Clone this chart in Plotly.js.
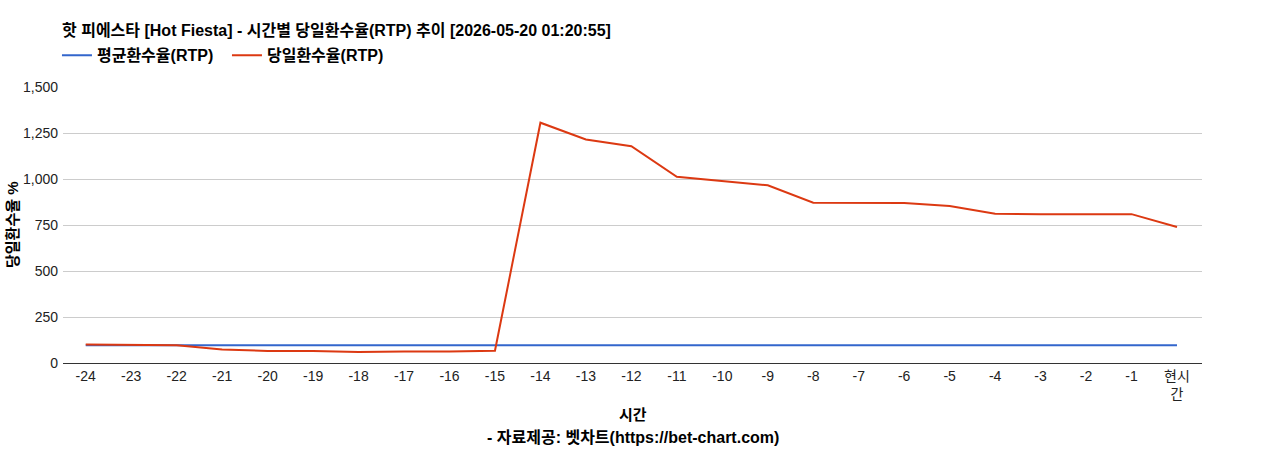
<!DOCTYPE html>
<html>
<head>
<meta charset="utf-8">
<script src="https://cdn.plot.ly/plotly-3.0.1.min.js"></script>
<style>
  html, body { margin: 0; padding: 0; background: #fff; }
  #chart { width: 1268px; height: 450px; }
</style>
</head>
<body>
<div id="chart"></div>
<script>
// hours before now, last one is "now"
var hours = ['-24', '-23', '-22', '-21', '-20', '-19', '-18', '-17', '-16', '-15', '-14', '-13',
             '-12', '-11', '-10', '-9', '-8', '-7', '-6', '-5', '-4', '-3', '-2', '-1', '현시<br>간'];

var avgRtp = [96, 96, 96, 96, 96, 96, 96, 96, 96, 96, 96, 96,
              96, 96, 96, 96, 96, 96, 96, 96, 96, 96, 96, 96, 96];

var dayRtp = [100, 100, 96, 74, 65, 65, 60, 62, 62, 67, 1306, 1215,
              1178, 1012, 989, 966, 871, 869, 869, 853, 811, 809, 809, 809, 739];

var yTicks = [0, 250, 500, 750, 1000, 1250, 1500];
var yTickText = ['0', '250', '500', '750', '1,000', '1,250', '1,500'];

var FONT = '"Liberation Sans", Arial, "Noto Sans CJK KR", sans-serif';

var data = [
  {
    x: hours, y: avgRtp, name: '평균환수율(RTP)',
    type: 'scatter', mode: 'lines',
    line: { color: '#3366cc', width: 2 }
  },
  {
    x: hours, y: dayRtp, name: '당일환수율(RTP)',
    type: 'scatter', mode: 'lines',
    line: { color: '#dc3912', width: 2 }
  }
];

var layout = {
  width: 1268, height: 450,
  margin: { l: 63, r: 66, t: 87, b: 87 },
  paper_bgcolor: '#fff', plot_bgcolor: '#fff',
  font: { family: FONT, size: 14, color: '#222' },
  title: {
    text: '<b>핫 피에스타 [Hot Fiesta] - 시간별 당일환수율(RTP) 추이 [2026-05-20 01:20:55]</b>',
    x: 62 / 1268, xanchor: 'left', xref: 'container',
    y: 1 - 30 / 450, yanchor: 'middle', yref: 'container',
    font: { family: FONT, size: 16, color: '#000' }
  },
  showlegend: true,
  legend: {
    orientation: 'h', x: -0.0053, xanchor: 'left', y: 1.115, yanchor: 'middle',
    font: { family: FONT, size: 16, color: '#000', weight: 'bold' },
    itemwidth: 30, entrywidth: 125, entrywidthmode: 'pixels',
    bgcolor: 'rgba(0,0,0,0)'
  },
  xaxis: {
    type: 'category', range: [-0.5, 24.55],
    showgrid: false, zeroline: false,
    showline: true, linecolor: '#333', linewidth: 1,
    ticks: '', tickfont: { family: FONT, size: 14, color: '#222' },
    fixedrange: true
  },
  yaxis: {
    range: [0, 1500], tickvals: yTicks, ticktext: yTickText,
    showgrid: true, gridcolor: '#cccccc', gridwidth: 1,
    zeroline: false, showline: false, ticks: '', ticklabelstandoff: 4,
    tickfont: { family: FONT, size: 14, color: '#222' },
    fixedrange: true
  },
  annotations: [
    {
      text: '<b>시간</b>', xref: 'paper', yref: 'paper', x: 0.5, y: -51 / 276,
      xanchor: 'center', yanchor: 'middle', showarrow: false,
      font: { family: FONT, size: 15, color: '#000' }
    },
    {
      text: '<b>- 자료제공: 벳차트(https://bet-chart.com)</b>', xref: 'paper', yref: 'paper',
      x: 0.5, y: -74 / 276, xanchor: 'center', yanchor: 'middle', showarrow: false,
      font: { family: FONT, size: 16, color: '#000' }
    },
    {
      text: '<b>당일환수율 %</b>', xref: 'paper', yref: 'paper', x: -51 / 1139, y: 0.5,
      xanchor: 'center', yanchor: 'middle', textangle: -90, showarrow: false,
      font: { family: FONT, size: 15, color: '#000' }
    }
  ]
};

Plotly.newPlot('chart', data, layout, { displayModeBar: false, staticPlot: true });
</script>
</body>
</html>
